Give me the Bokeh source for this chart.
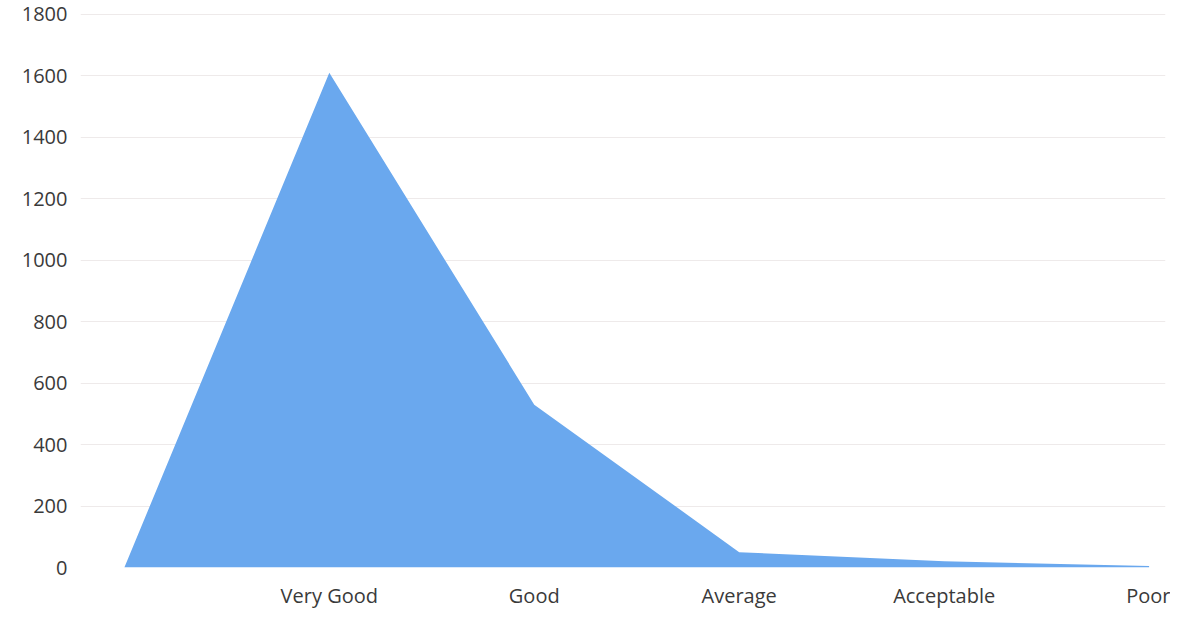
from bokeh.plotting import figure
from bokeh.models import Range1d, FixedTicker
from bokeh.embed import file_html
from bokeh.resources import INLINE

categories = ["", "Very Good", "Good", "Average", "Acceptable", "Poor"]
values = [0, 1610, 530, 50, 20, 5]
y_ticks = [0, 200, 400, 600, 800, 1000, 1200, 1400, 1600, 1800]

xs = list(range(len(categories)))

p = figure(width=1170, height=620, output_backend="svg", toolbar_location=None,
           x_range=Range1d(-0.214, 5.08), y_range=Range1d(0, 1816),
           min_border_left=80, min_border_right=5, min_border_top=9, min_border_bottom=53)
p.outline_line_color = None
p.background_fill_color = "white"

p.varea(x=xs, y1=[0] * len(xs), y2=values, fill_color="#6aa8ee")

font = "Open Sans"
p.xaxis.ticker = FixedTicker(ticks=xs)
p.xaxis.major_label_overrides = {i: c for i, c in enumerate(categories)}
p.yaxis.ticker = FixedTicker(ticks=y_ticks)
for ax in (p.xaxis, p.yaxis):
    ax.axis_line_color = None
    ax.major_tick_line_color = None
    ax.minor_tick_line_color = None
    ax.major_tick_out = 0
    ax.major_tick_in = 0
    ax.major_label_text_font = font
    ax.major_label_text_font_size = "20px"
    ax.major_label_text_color = "#3a3a3a"
p.xaxis.major_label_standoff = 14
p.yaxis.major_label_standoff = 13

p.xgrid.grid_line_color = None
p.ygrid.grid_line_color = "#eeeaea"
p.ygrid.grid_line_width = 1

open("out.html", "w").write(file_html(p, INLINE))
